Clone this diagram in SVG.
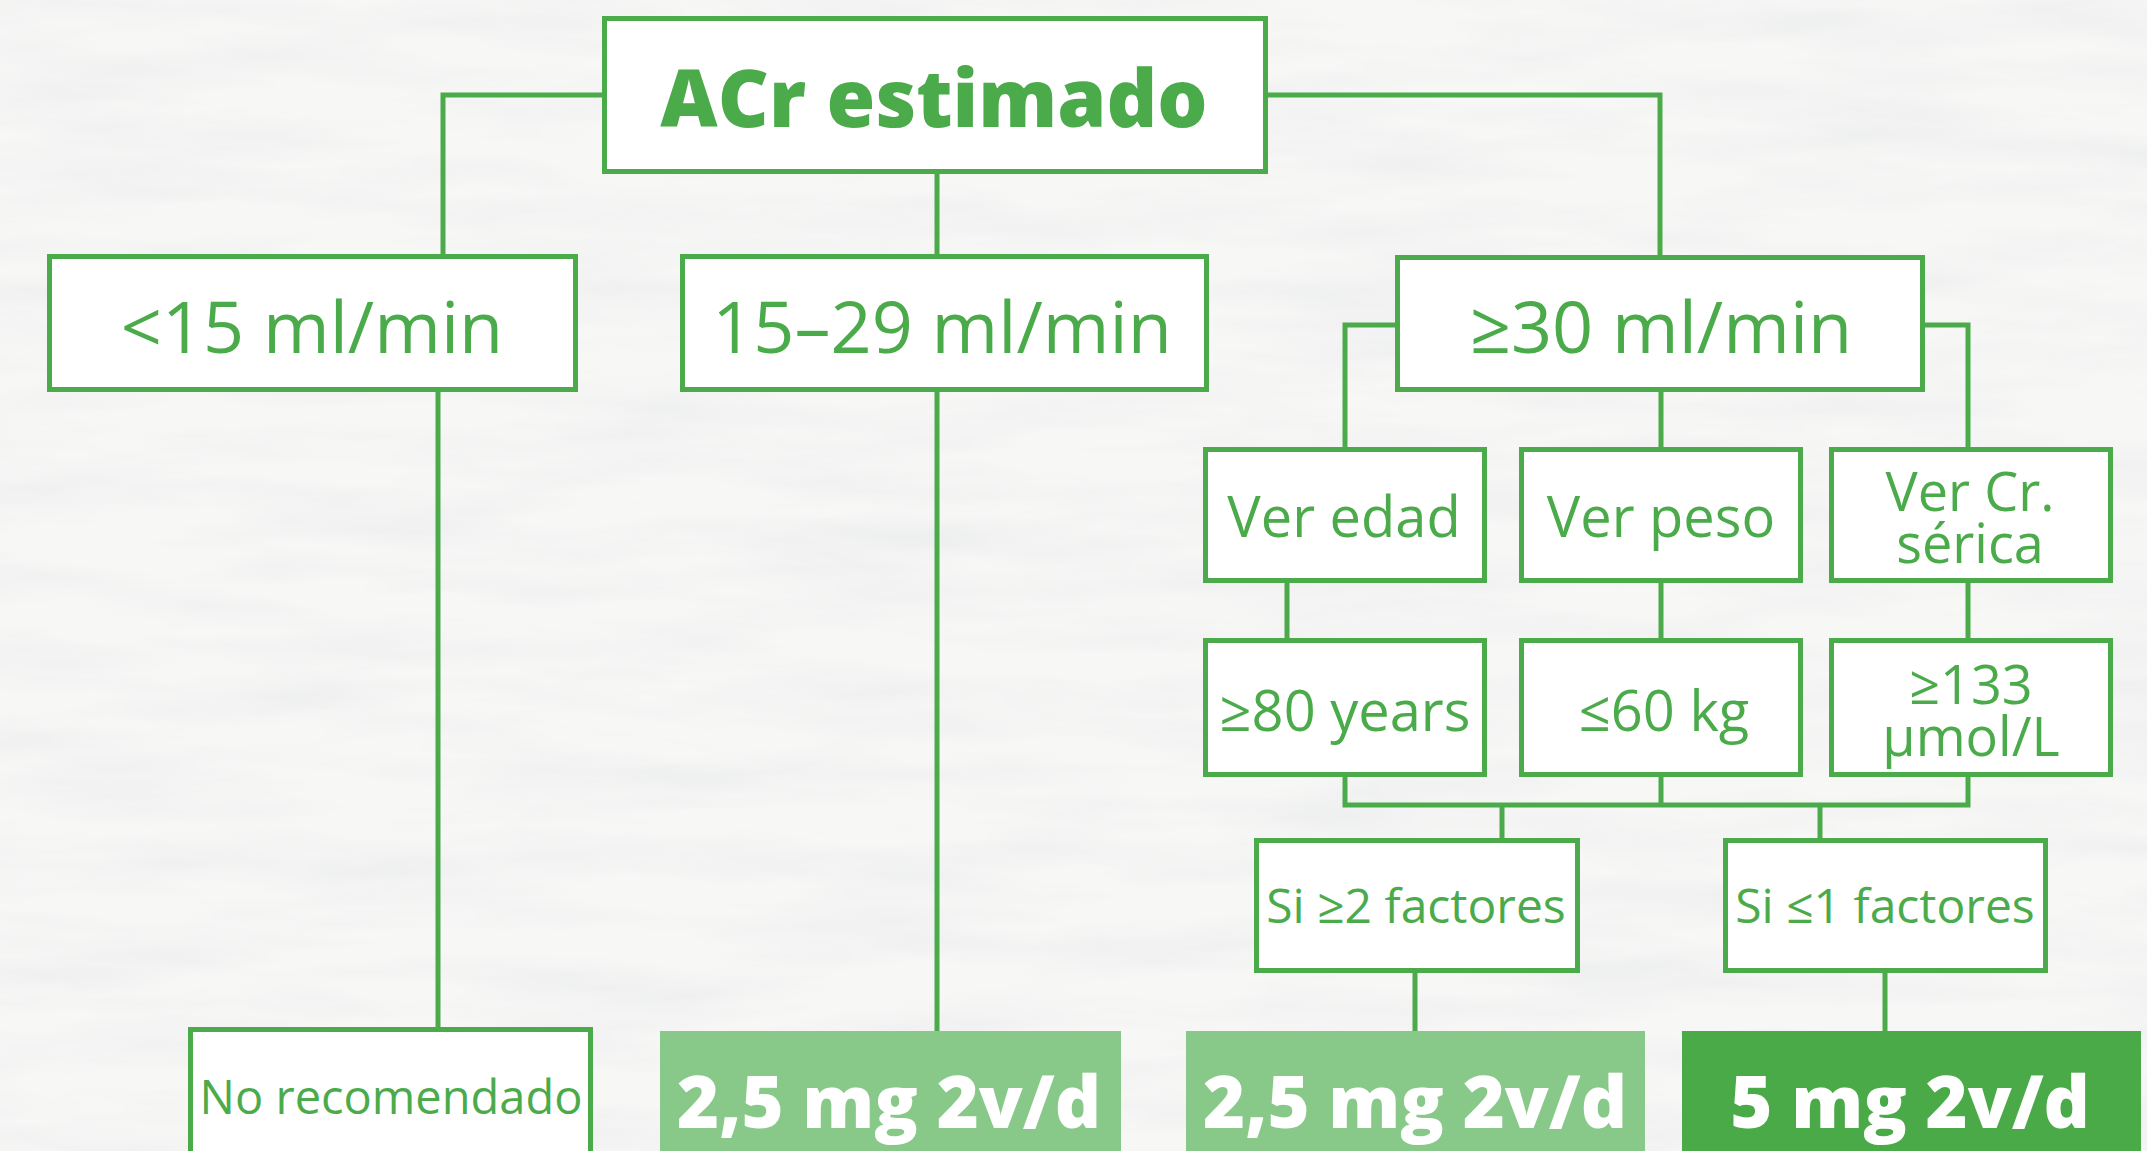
<svg xmlns="http://www.w3.org/2000/svg" width="2147" height="1151" viewBox="0 0 2147 1151">
<defs>
<filter id="marble" x="0" y="0" width="100%" height="100%" filterUnits="userSpaceOnUse">
<feTurbulence type="fractalNoise" baseFrequency="0.004 0.025" numOctaves="4" seed="7" result="n"/>
<feColorMatrix in="n" type="matrix" values="0 0 0 0 0.84  0 0 0 0 0.85  0 0 0 0 0.85  1.6 0 0 0 -0.6"/>
</filter>
<style>
.box{fill:#ffffff;stroke:#4bab4b;stroke-width:5}
.light{fill:#88c98a}
.dark{fill:#4aaa47}
.conn{fill:none;stroke:#4bab4b;stroke-width:5;stroke-linejoin:miter}
.t{font-family:"Open Sans","Liberation Sans",sans-serif;fill:#4bab4b;text-anchor:middle}
.big{font-size:72px}
.mid{font-size:56px}
.two{font-size:54px}
.sm{font-size:48px}
.title{font-size:79px;font-weight:800}
.dose{font-family:"Open Sans","Liberation Sans",sans-serif;font-size:72px;font-weight:800;fill:#ffffff;text-anchor:middle}
</style>
</defs>
<rect x="0" y="0" width="2147" height="1151" fill="#f7f7f6"/>
<rect x="0" y="0" width="2147" height="1151" filter="url(#marble)"/>

<g id="connectors">
<path class="conn" d="M602 95 H443 V254"/>
<path class="conn" d="M937 174 V254"/>
<path class="conn" d="M1268 95 H1660 V255"/>
<path class="conn" d="M438 392 V1027"/>
<path class="conn" d="M937 392 V1031"/>
<path class="conn" d="M1395 325 H1345 V447"/>
<path class="conn" d="M1925 325 H1968 V447"/>
<path class="conn" d="M1661 392 V447"/>
<path class="conn" d="M1287 583 V638"/>
<path class="conn" d="M1661 583 V638"/>
<path class="conn" d="M1968 583 V638"/>
<path class="conn" d="M1345 777 V805 H1968 V777"/>
<path class="conn" d="M1661 777 V805"/>
<path class="conn" d="M1502 805 V838"/>
<path class="conn" d="M1820 805 V838"/>
<path class="conn" d="M1415 973 V1031"/>
<path class="conn" d="M1885 973 V1031"/>
</g>

<g id="acr">
<rect class="box" x="604.5" y="18.5" width="661" height="153"/>
<text class="t title" x="934" y="127">ACr estimado</text>
</g>
<g id="lt15">
<rect class="box" x="49.5" y="256.5" width="526" height="133"/>
<text class="t big" x="312" y="353">&lt;15 ml/min</text>
</g>
<g id="r15_29">
<rect class="box" x="682.5" y="256.5" width="524" height="133"/>
<text class="t big" x="942" y="353">15–29 ml/min</text>
</g>
<g id="ge30">
<rect class="box" x="1397.5" y="257.5" width="525" height="132"/>
<text class="t big" x="1661" y="353">≥30 ml/min</text>
</g>
<g id="ver_edad">
<rect class="box" x="1205.5" y="449.5" width="279" height="131"/>
<text class="t mid" x="1344" y="537">Ver edad</text>
</g>
<g id="ver_peso">
<rect class="box" x="1521.5" y="449.5" width="279" height="131"/>
<text class="t mid" x="1661" y="537">Ver peso</text>
</g>
<g id="ver_cr">
<rect class="box" x="1831.5" y="449.5" width="279" height="131"/>
<text class="t two" x="1970" y="511"><tspan x="1970" y="511">Ver Cr.</tspan><tspan x="1970" y="563">sérica</tspan></text>
</g>
<g id="edad80">
<rect class="box" x="1205.5" y="640.5" width="279" height="134"/>
<text class="t mid" x="1345" y="731">≥80 years</text>
</g>
<g id="peso60">
<rect class="box" x="1521.5" y="640.5" width="279" height="134"/>
<text class="t mid" x="1664" y="731">≤60 kg</text>
</g>
<g id="cr133">
<rect class="box" x="1831.5" y="640.5" width="279" height="134"/>
<text class="t two" x="1971" y="704"><tspan x="1971" y="704">≥133</tspan><tspan x="1971" y="756">µmol/L</tspan></text>
</g>
<g id="si2">
<rect class="box" x="1256.5" y="840.5" width="321" height="130"/>
<text class="t sm" x="1416" y="923">Si ≥2 factores</text>
</g>
<g id="si1">
<rect class="box" x="1725.5" y="840.5" width="320" height="130"/>
<text class="t sm" x="1885" y="923">Si ≤1 factores</text>
</g>
<g id="no_rec">
<rect class="box" x="190.5" y="1029.5" width="400" height="140"/>
<text class="t" font-size="47" x="391" y="1114">No recomendado</text>
</g>
<g id="dose1">
<rect class="light" x="660" y="1031" width="461" height="130"/>
<text class="dose" x="889" y="1128">2,5 mg 2v/d</text>
</g>
<g id="dose2">
<rect class="light" x="1186" y="1031" width="459" height="130"/>
<text class="dose" x="1415" y="1128">2,5 mg 2v/d</text>
</g>
<g id="dose3">
<rect class="dark" x="1682" y="1031" width="459" height="130"/>
<text class="dose" x="1910" y="1128">5 mg 2v/d</text>
</g>
</svg>
